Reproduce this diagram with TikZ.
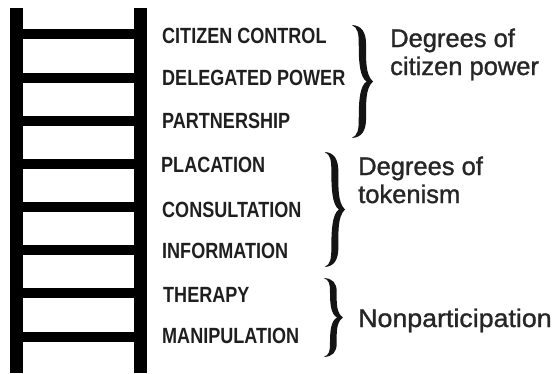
\documentclass[tikz,border=0pt]{standalone}
\usepackage{fontspec}
\setmainfont{Liberation Sans}
\newfontfamily\condfont{Liberation Sans}[FakeStretch=0.82]
\newfontfamily\labelfont{Liberation Sans}[FakeBold=1.2]
\newfontfamily\widelabelfont{Liberation Sans}[FakeBold=1.2,FakeStretch=1.05]
\newcommand\ladderbrace[4]{% x-left, y-tip, half-height, width
  \begin{scope}[shift={(#1,#2)}, x=#4pt, y=-#3pt]
    \fill[bracefill] (0.08,1)
      .. controls (0.5,0.99) and (0.7,0.88) .. (0.7,0.65)
      .. controls (0.7,0.4) and (0.66,0.12) .. (1,0)
      .. controls (0.66,-0.12) and (0.7,-0.4) .. (0.7,-0.65)
      .. controls (0.7,-0.88) and (0.5,-0.99) .. (0.08,-1)
      .. controls (0.35,-0.95) and (0.38,-0.85) .. (0.38,-0.65)
      .. controls (0.38,-0.35) and (0.42,-0.08) .. (0.72,0)
      .. controls (0.42,0.08) and (0.38,0.35) .. (0.38,0.65)
      .. controls (0.38,0.85) and (0.35,0.95) .. (0.08,1) -- cycle;
  \end{scope}}
\tikzset{
  ladderpart/.style={fill=black},
  bracefill/.style={fill=black!92},
  level/.style={anchor=base west, inner sep=0pt, text=black!88,
    font=\condfont\bfseries\fontsize{22}{24}\selectfont},
  grouplabel/.style={anchor=base west, inner sep=0pt, text=black!85, align=left,
    font=\labelfont\fontsize{25.5}{28}\selectfont}
}
\begin{document}
\begin{tikzpicture}[x=1pt,y=-1pt]
\useasboundingbox (0,0) rectangle (556,373);
% ladder rails
\fill[ladderpart] (10,8) rectangle (23,373);
\fill[ladderpart] (134,8) rectangle (147,373);
% rungs
\foreach \c in {34,78,121,164,207,250,293,337}
  \fill[ladderpart] (23,\c-5) rectangle (134,\c+5);
% levels
\node[level] (cc) at (162,43) {CITIZEN CONTROL};
\node[level] (dp) at (162,85) {DELEGATED POWER};
\node[level] (pa) at (162,128) {PARTNERSHIP};
\node[level] (pl) at (161,172) {PLACATION};
\node[level] (co) at (162,217) {CONSULTATION};
\node[level] (in) at (162,258) {INFORMATION};
\node[level] (th) at (163,302) {THERAPY};
\node[level] (ma) at (162,343) {MANIPULATION};
% braces
\ladderbrace{350}{81.5}{56.5}{23}
\ladderbrace{323}{209.5}{57.5}{22}
\ladderbrace{322}{317.5}{39.5}{21}
% group labels
\node[grouplabel] (g1) at (390,75) {Degrees of\\citizen power};
\node[grouplabel] (g2) at (358,203) {Degrees of\\tokenism};
\node[grouplabel, font=\widelabelfont\fontsize{25.5}{28}\selectfont] (g3) at (358,327) {Nonparticipation};
\end{tikzpicture}
\end{document}
